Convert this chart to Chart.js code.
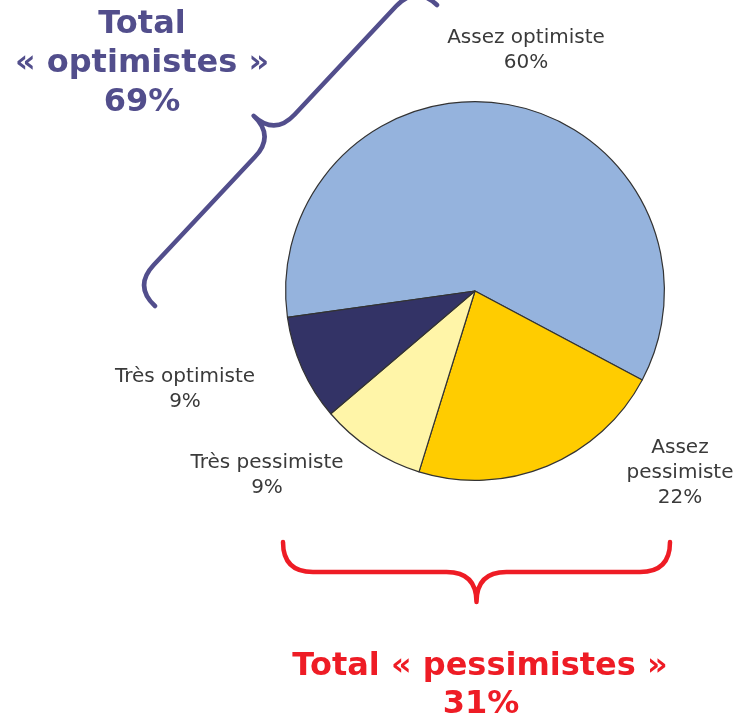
<!DOCTYPE html>
<html lang="fr">
<head>
    <meta charset="UTF-8">
    <title>Optimistes / pessimistes</title>
    <script src="https://cdn.jsdelivr.net/npm/chart.js"></script>
    <style>
        html, body { margin: 0; padding: 0; background: #fff; }
        #pie { display: block; }
    </style>
</head>
<body>
    <canvas id="pie" width="735" height="718"></canvas>

    <script>
        // data
        const labels = ['Assez optimiste', 'Assez pessimiste', 'Très pessimiste', 'Très optimiste'];
        const values = [60, 22, 9, 9];
        const totalOptimistes = 69;
        const totalPessimistes = 31;

        const colors = ['#95B3DD', '#FFCC00', '#FFF5A8', '#333366'];
        const labelFont = '20px "DejaVu Sans", Verdana, sans-serif';
        const titleFont = 'bold 32px "DejaVu Sans", Verdana, sans-serif';
        const purple = '#524E8C';
        const red = '#EE1C25';

        // label text lines + where they sit, relative to the pie centre (in px)
        const labelLines = [
            ['Assez optimiste', values[0] + '%'],
            ['Assez', 'pessimiste', values[1] + '%'],
            ['Très pessimiste', values[2] + '%'],
            ['Très optimiste', values[3] + '%']
        ];
        const labelOffsets = [[51, -248], [205, 162], [-208, 177], [-290, 91]];

        function brace(ctx, ax, ay, bx, by, r, color) {
            // curly brace from A to B, tip on the right-hand side of A->B (screen coords)
            const dx = bx - ax, dy = by - ay;
            const L = Math.hypot(dx, dy);
            ctx.save();
            ctx.translate(ax, ay);
            ctx.rotate(Math.atan2(dy, dx));
            ctx.beginPath();
            ctx.moveTo(0, 0);
            ctx.quadraticCurveTo(0, r, r, r);
            ctx.lineTo(L / 2 - r, r);
            ctx.quadraticCurveTo(L / 2, r, L / 2, 2 * r);
            ctx.quadraticCurveTo(L / 2, r, L / 2 + r, r);
            ctx.lineTo(L - r, r);
            ctx.quadraticCurveTo(L, r, L, 0);
            ctx.strokeStyle = color;
            ctx.lineWidth = 4.5;
            ctx.lineCap = 'round';
            ctx.lineJoin = 'round';
            ctx.stroke();
            ctx.restore();
        }

        const decorations = {
            id: 'decorations',
            afterDraw(chart) {
                const ctx = chart.ctx;
                const arc = chart.getDatasetMeta(0).data[0];
                const cx = arc.x, cy = arc.y;

                // slice labels
                ctx.save();
                ctx.font = labelFont;
                ctx.fillStyle = '#3A3A3A';
                ctx.textAlign = 'center';
                ctx.textBaseline = 'alphabetic';
                labelLines.forEach((lines, i) => {
                    const x = cx + labelOffsets[i][0];
                    let y = cy + labelOffsets[i][1];
                    lines.forEach(t => { ctx.fillText(t, x, y); y += 25; });
                });
                ctx.restore();

                // braces
                brace(ctx, 437, 5, 155, 306, 29, purple);
                brace(ctx, 283, 542, 670, 542, 30, red);

                // totals
                ctx.save();
                ctx.font = titleFont;
                ctx.textAlign = 'center';
                ctx.fillStyle = purple;
                ctx.fillText('Total', 142, 33);
                ctx.fillText('« optimistes »', 142, 72);
                ctx.fillText(totalOptimistes + '%', 142, 111);
                ctx.fillStyle = red;
                ctx.fillText('Total « pessimistes »', 480, 675);
                ctx.fillText(totalPessimistes + '%', 481, 713);
                ctx.restore();
            }
        };

        new Chart(document.getElementById('pie'), {
            type: 'pie',
            data: {
                labels: labels,
                datasets: [{
                    data: values,
                    backgroundColor: colors,
                    borderColor: '#333333',
                    borderWidth: 1.2
                }]
            },
            options: {
                responsive: false,
                animation: false,
                rotation: -98,
                layout: { padding: { left: 285, right: 70, top: 101, bottom: 237 } },
                plugins: {
                    legend: { display: false },
                    tooltip: { enabled: false }
                }
            },
            plugins: [decorations]
        });
    </script>
</body>
</html>
